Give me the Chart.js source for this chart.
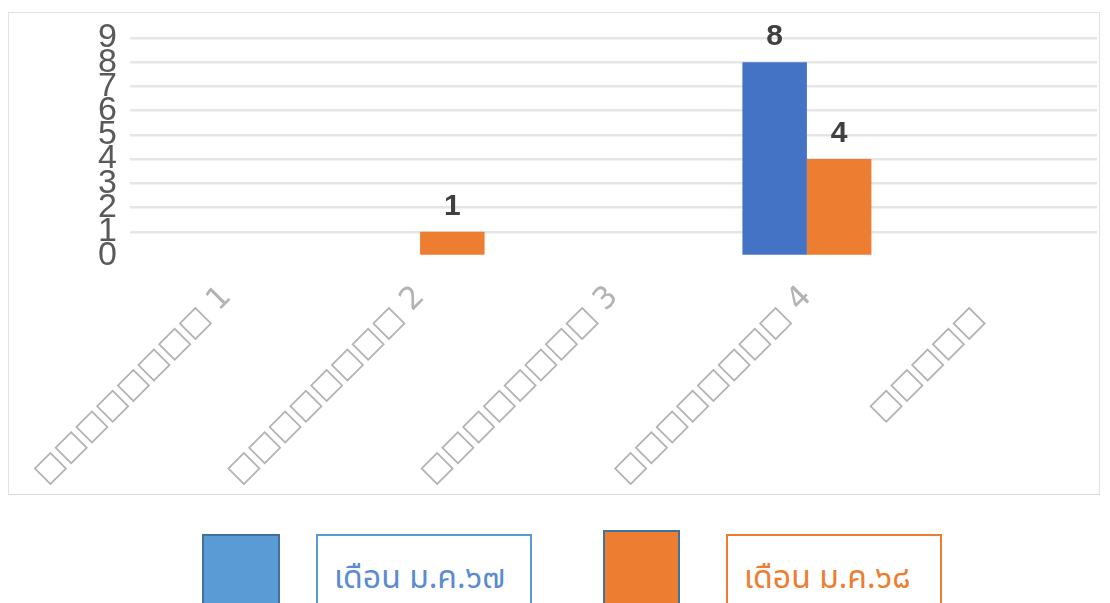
<!DOCTYPE html>
<html>
<head>
<meta charset="utf-8">
<script src="https://cdn.jsdelivr.net/npm/chart.js@4.4.1/dist/chart.umd.min.js"></script>
<style>
  html, body { margin: 0; padding: 0; background: #ffffff; width: 1110px; height: 603px; overflow: hidden; }
  #frame { position: absolute; left: 8px; top: 12px; width: 1092px; height: 483px; border: 1px solid #e2e2e2; border-bottom-color: #d9d9d9; box-sizing: border-box; overflow: hidden; }
  #chartWrap { position: absolute; left: -1px; top: -1px; width: 1092px; height: 483px; }
  .swatch { position: absolute; box-sizing: border-box; }
  .lbox { position: absolute; box-sizing: border-box; background: #fff; font-family: "Tahoma", "Noto Sans Thai", "DejaVu Sans", sans-serif; font-size: 32px; padding-left: 16px; padding-top: 18px; white-space: nowrap; }
</style>
</head>
<body>
<div id="frame"><div id="chartWrap"><canvas id="c"></canvas></div></div>
<div class="swatch" style="left:202px;top:534px;width:78px;height:72px;background:#5B9BD5;border:2px solid #41719C;"></div>
<div class="lbox" id="leg1" style="left:316px;top:534px;width:216px;height:72px;border:2px solid #5B9BD5;color:#5B8BD0;"></div>
<div class="swatch" style="left:603px;top:530px;width:77px;height:76px;background:#ED7D31;border:2px solid #41719C;"></div>
<div class="lbox" id="leg2" style="left:726px;top:534px;width:216px;height:72px;border:2px solid #ED7D31;color:#ED7D31;"></div>
<script>
// ---- data ----
const categories = ["□□□□□□□□ 1", "□□□□□□□□ 2", "□□□□□□□□ 3", "□□□□□□□□ 4", "□□□□□   "];
const seriesNames = ["เดือน ม.ค.๖๗", "เดือน ม.ค.๖๘"];
const series67 = [0, 0, 0, 8, 0];
const series68 = [0, 1, 0, 4, 0];
const yTicks = [0, 1, 2, 3, 4, 5, 6, 7, 8, 9];

document.getElementById('leg1').textContent = seriesNames[0];
document.getElementById('leg2').textContent = seriesNames[1];

const valueLabels = {
  id: 'valueLabels',
  afterDatasetsDraw(chart) {
    const ctx = chart.ctx;
    ctx.save();
    ctx.font = 'bold 30px "Liberation Sans", Arial, sans-serif';
    ctx.fillStyle = '#404040';
    ctx.textAlign = 'center';
    ctx.textBaseline = 'middle';
    chart.data.datasets.forEach((ds, di) => {
      const meta = chart.getDatasetMeta(di);
      meta.data.forEach((el, i) => {
        const v = ds.data[i];
        if (v > 0) ctx.fillText(String(v), el.x, el.y - 25);
      });
    });
    ctx.restore();
  }
};

new Chart(document.getElementById('c'), {
  type: 'bar',
  data: {
    labels: categories,
    datasets: [
      { label: seriesNames[0], data: series67, backgroundColor: '#4472C4', categoryPercentage: 0.667, barPercentage: 1.0 },
      { label: seriesNames[1], data: series68, backgroundColor: '#ED7D31', categoryPercentage: 0.667, barPercentage: 1.0 }
    ]
  },
  options: {
    responsive: true,
    maintainAspectRatio: false,
    animation: false,
    layout: { padding: { top: 26, right: 3, left: 0, bottom: 0 } },
    plugins: { legend: { display: false }, tooltip: { enabled: false } },
    scales: {
      x: {
        grid: { display: false, drawTicks: false },
        border: { display: false },
        ticks: {
          autoSkip: false, maxRotation: 45, minRotation: 45, padding: 23,
          color: '#b3b3b3',
          font: { size: 31, family: '"DejaVu Sans", sans-serif' }
        },
        afterFit(scale) { scale.height = 239; scale.paddingLeft = 0; scale.paddingRight = 0; }
      },
      y: {
        min: 0, max: 9,
        afterBuildTicks(scale) { scale.ticks = yTicks.map(v => ({ value: v })); },
        grid: { drawTicks: false, lineWidth: 2.5, color: (c) => (c.tick && c.tick.value === 0) ? 'rgba(0,0,0,0)' : '#e6e6e6' },
        border: { display: false },
        ticks: {
          autoSkip: false, padding: 13, color: '#595959',
          font: { size: 34, family: '"Liberation Sans Narrow", "Liberation Sans", sans-serif' }
        },
        afterFit(scale) { scale.width = 122; scale.paddingTop = 0; scale.paddingBottom = 0; }
      }
    }
  },
  plugins: [valueLabels]
});
</script>
</body>
</html>
